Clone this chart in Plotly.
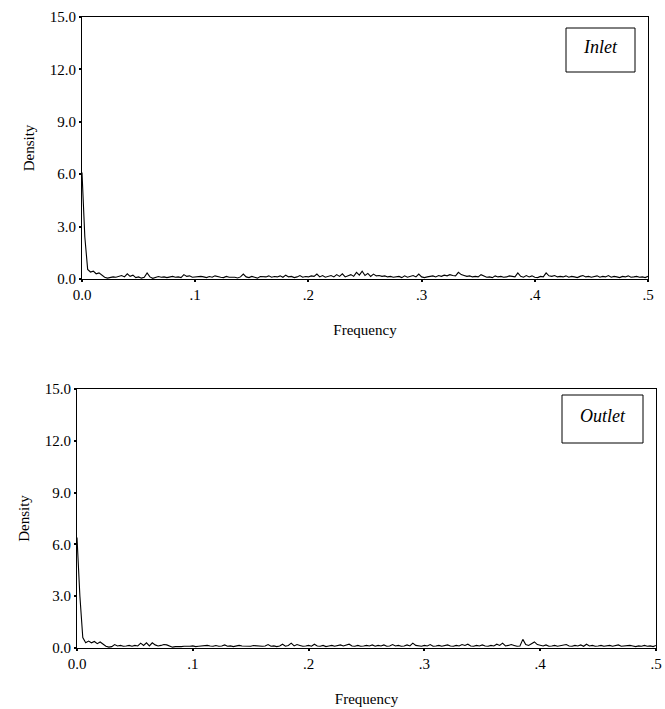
import plotly.graph_objects as go

# Frequency grid (0 to 0.5, step 0.0025)
frequency = [round(i * 0.0025, 4) for i in range(201)]

inlet_density = [
    6.1, 2.4, 0.55, 0.4, 0.45, 0.3, 0.35, 0.2, 0.1, 0.05,
    0.08, 0.12, 0.1, 0.15, 0.2, 0.12, 0.3, 0.15, 0.22, 0.08,
    0.12, 0.05, 0.1, 0.35, 0.12, 0.04, 0.08, 0.14, 0.1, 0.12,
    0.08, 0.1, 0.15, 0.1, 0.12, 0.08, 0.25, 0.15, 0.18, 0.1,
    0.12, 0.1, 0.15, 0.12, 0.08, 0.14, 0.1, 0.18, 0.12, 0.1,
    0.08, 0.15, 0.1, 0.12, 0.1, 0.06, 0.12, 0.28, 0.12, 0.08,
    0.15, 0.1, 0.05, 0.14, 0.15, 0.12, 0.18, 0.1, 0.14, 0.12,
    0.18, 0.1, 0.22, 0.12, 0.15, 0.08, 0.12, 0.2, 0.1, 0.14,
    0.12, 0.18, 0.15, 0.28, 0.12, 0.2, 0.1, 0.15, 0.2, 0.12,
    0.25, 0.15, 0.3, 0.12, 0.18, 0.25, 0.15, 0.38, 0.22, 0.45,
    0.2, 0.32, 0.15, 0.28, 0.18, 0.2, 0.15, 0.18, 0.12, 0.15,
    0.1, 0.12, 0.15, 0.08, 0.18, 0.1, 0.15, 0.2, 0.12, 0.28,
    0.12, 0.08, 0.12, 0.15, 0.18, 0.12, 0.2, 0.15, 0.22, 0.18,
    0.25, 0.2, 0.18, 0.38, 0.25, 0.2, 0.15, 0.18, 0.12, 0.15,
    0.12, 0.25, 0.15, 0.1, 0.12, 0.08, 0.18, 0.12, 0.15, 0.1,
    0.12, 0.18, 0.15, 0.12, 0.35, 0.15, 0.1, 0.2, 0.12, 0.18,
    0.1, 0.08, 0.15, 0.12, 0.35, 0.18, 0.15, 0.2, 0.12, 0.15,
    0.12, 0.18, 0.1, 0.15, 0.12, 0.08, 0.15, 0.2, 0.12, 0.15,
    0.1, 0.12, 0.18, 0.1, 0.15, 0.12, 0.2, 0.1, 0.15, 0.12,
    0.08, 0.15, 0.12, 0.18, 0.1, 0.12, 0.15, 0.1, 0.12, 0.08,
    0.15,
]

outlet_density = [
    6.4, 3.0, 0.6, 0.3, 0.4, 0.3, 0.38, 0.25, 0.35, 0.2,
    0.1, 0.05, 0.08, 0.2, 0.12, 0.15, 0.1, 0.12, 0.15, 0.1,
    0.15, 0.12, 0.28, 0.15, 0.3, 0.12, 0.3, 0.18, 0.12, 0.15,
    0.2, 0.18, 0.1, 0.05, 0.08, 0.06, 0.08, 0.1, 0.08, 0.1,
    0.12, 0.08, 0.1, 0.12, 0.1, 0.15, 0.12, 0.1, 0.14, 0.1,
    0.12, 0.18, 0.1, 0.12, 0.08, 0.1, 0.15, 0.12, 0.1, 0.12,
    0.1, 0.14, 0.12, 0.08, 0.1, 0.12, 0.2, 0.1, 0.12, 0.08,
    0.12, 0.22, 0.1, 0.15, 0.28, 0.12, 0.2, 0.15, 0.1, 0.12,
    0.15, 0.1, 0.22, 0.12, 0.1, 0.15, 0.08, 0.12, 0.15, 0.1,
    0.12, 0.18, 0.12, 0.15, 0.22, 0.12, 0.1, 0.15, 0.1, 0.12,
    0.15, 0.12, 0.18, 0.1, 0.15, 0.12, 0.18, 0.1, 0.12, 0.2,
    0.12, 0.15, 0.1, 0.12, 0.18, 0.12, 0.28, 0.15, 0.12, 0.1,
    0.15, 0.12, 0.2, 0.1, 0.12, 0.15, 0.1, 0.12, 0.18, 0.12,
    0.1, 0.15, 0.12, 0.2, 0.15, 0.22, 0.12, 0.1, 0.15, 0.12,
    0.18, 0.12, 0.1, 0.15, 0.12, 0.22, 0.15, 0.28, 0.12, 0.15,
    0.2, 0.15, 0.1, 0.12, 0.5, 0.2, 0.15, 0.25, 0.35, 0.2,
    0.15, 0.12, 0.18, 0.1, 0.12, 0.15, 0.1, 0.12, 0.15, 0.2,
    0.12, 0.1, 0.15, 0.12, 0.18, 0.1, 0.22, 0.12, 0.15, 0.1,
    0.12, 0.15, 0.1, 0.12, 0.15, 0.1, 0.12, 0.18, 0.1, 0.12,
    0.1, 0.15, 0.12, 0.08, 0.12, 0.1, 0.15, 0.1, 0.12, 0.08,
    0.15,
]

x_tickvals = [0.0, 0.1, 0.2, 0.3, 0.4, 0.5]
x_ticktext = ["0.0", ".1", ".2", ".3", ".4", ".5"]
y_tickvals = [0.0, 3.0, 6.0, 9.0, 12.0, 15.0]
y_ticktext = ["0.0", "3.0", "6.0", "9.0", "12.0", "15.0"]
panel_labels = ["Inlet", "Outlet"]

FONT = "Liberation Serif, Times New Roman, serif"

fig = go.Figure()
fig.add_trace(go.Scatter(x=frequency, y=inlet_density, mode="lines",
                         line=dict(color="black", width=1.1),
                         xaxis="x", yaxis="y", showlegend=False))
fig.add_trace(go.Scatter(x=frequency, y=outlet_density, mode="lines",
                         line=dict(color="black", width=1.1),
                         xaxis="x2", yaxis="y2", showlegend=False))

W, H = 665, 709

def px(v):
    return v / W

def py(v):
    return 1 - v / H

axis_common = dict(showline=True, linecolor="black", linewidth=1, mirror=True,
                   showgrid=False, zeroline=False, ticks="outside",
                   ticklen=2, tickwidth=2, tickcolor="black", automargin=False,
                   tickfont=dict(family=FONT, size=15, color="black"))

xa = dict(axis_common, range=[0, 0.5], tickvals=x_tickvals, ticktext=x_ticktext,
          title=dict(text="Frequency", font=dict(family=FONT, size=15, color="black"), standoff=22))
ya = dict(axis_common, range=[0, 15], tickvals=y_tickvals, ticktext=y_ticktext,
          title=dict(text="Density", font=dict(family=FONT, size=15, color="black"), standoff=11))

fig.update_layout(
    width=W, height=H,
    margin=dict(l=0, r=0, t=0, b=0),
    paper_bgcolor="white", plot_bgcolor="white",
    xaxis=dict(xa, domain=[px(82), px(648)], anchor="y"),
    yaxis=dict(ya, domain=[py(279), py(17)], anchor="x"),
    xaxis2=dict(xa, domain=[px(77), px(656)], anchor="y2"),
    yaxis2=dict(ya, domain=[py(648), py(389)], anchor="x2"),
)

# Panel label boxes
boxes = [(566, 28, 635, 72, 47), (562, 395, 643, 443, 416)]
for (x0, y0, x1, y1, ty), label in zip(boxes, panel_labels):
    fig.add_shape(type="rect", xref="paper", yref="paper",
                  x0=px(x0), x1=px(x1), y0=py(y1), y1=py(y0),
                  line=dict(color="black", width=1), fillcolor="white")
    fig.add_annotation(xref="paper", yref="paper", x=px((x0 + x1) / 2), y=py(ty),
                       text="<i>%s</i>" % label, showarrow=False,
                       font=dict(family=FONT, size=18, color="black"),
                       xanchor="center", yanchor="middle")

fig.write_html("out.html")
